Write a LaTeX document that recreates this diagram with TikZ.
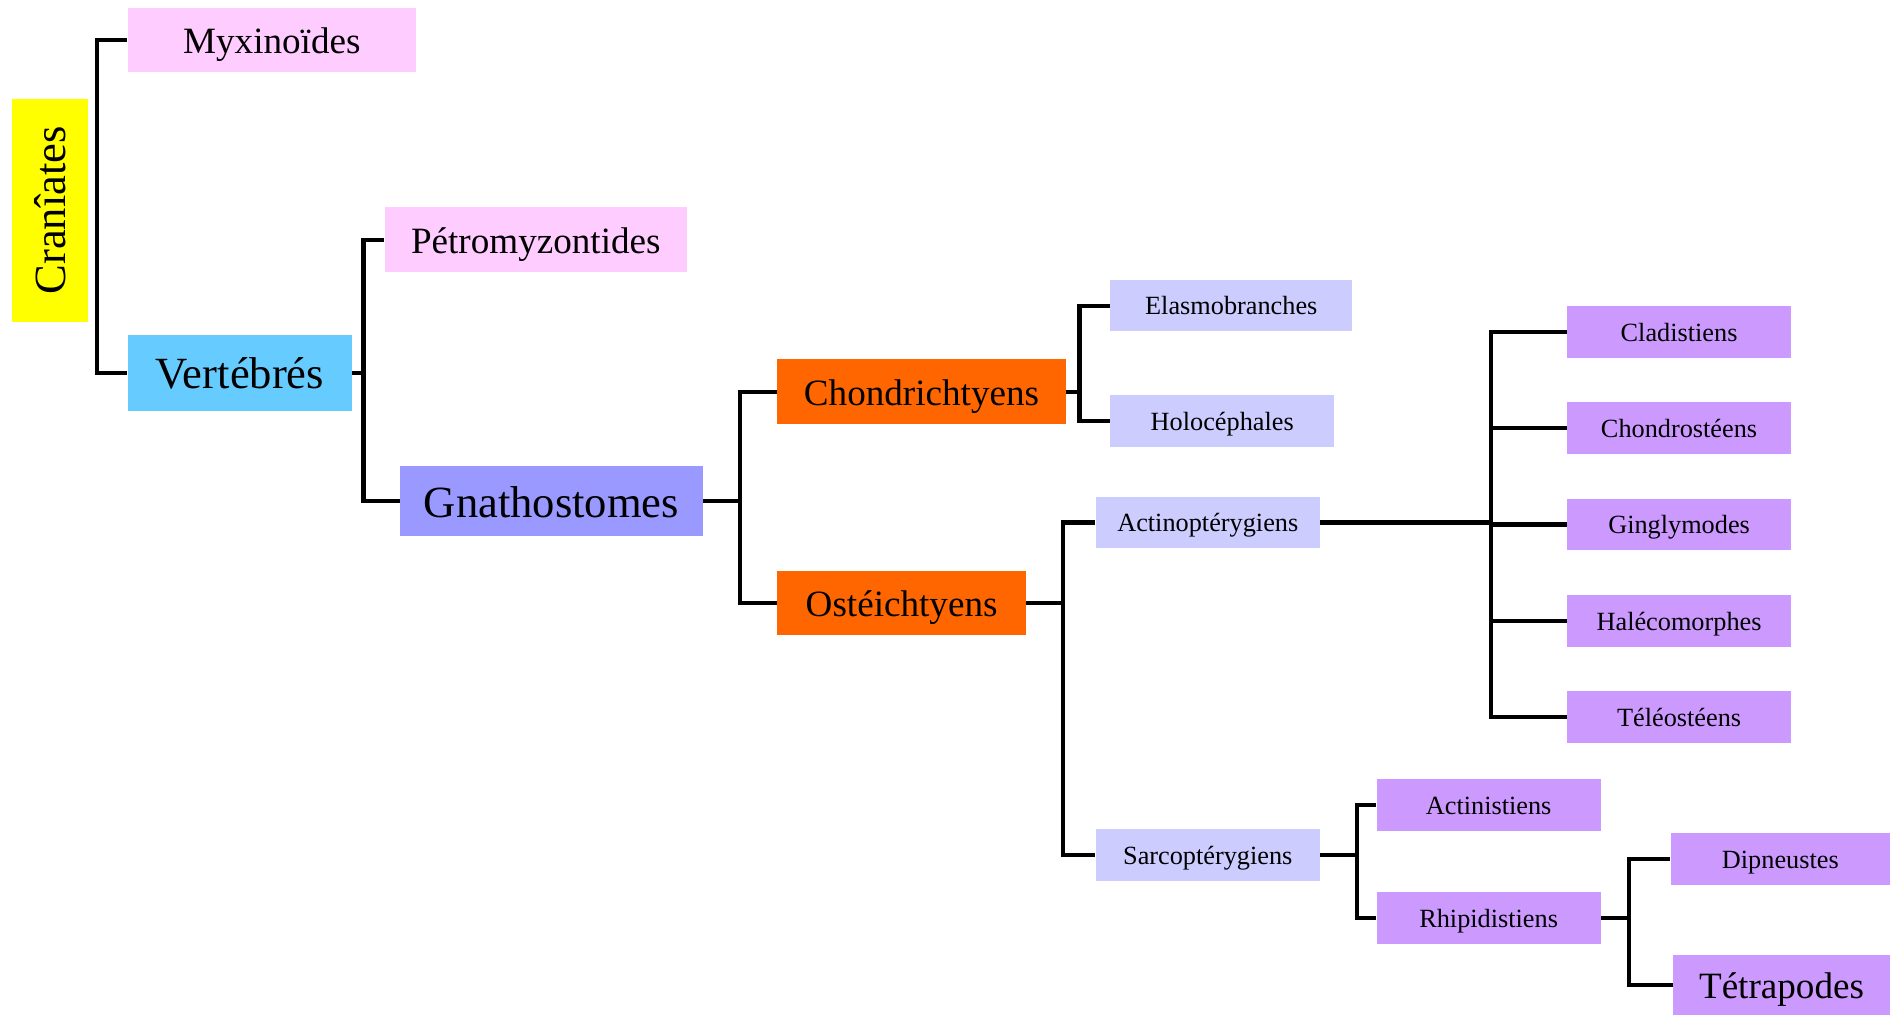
\documentclass[tikz,border=0pt]{standalone}
\usepackage{fontspec}
\setmainfont{Liberation Serif}
\usepackage{tikz}
\usetikzlibrary{shapes,positioning}
\definecolor{jaune}{RGB}{255, 255, 0}
\definecolor{rose}{RGB}{255, 204, 255}
\definecolor{ciel}{RGB}{102, 204, 255}
\definecolor{lavande}{RGB}{153, 153, 255}
\definecolor{orange}{RGB}{255, 102, 0}
\definecolor{bleupale}{RGB}{204, 204, 255}
\definecolor{mauve}{RGB}{204, 153, 255}
\tikzstyle{taxon} = [rectangle, inner sep=0pt, text=black, text centered, text depth=0pt]
\tikzstyle{big} = [taxon, font=\fontsize{18.5}{20}\selectfont, text height=13pt]
\tikzstyle{mid} = [taxon, font=\fontsize{15.4}{17}\selectfont, text height=11pt]
\tikzstyle{small} = [taxon, font=\fontsize{10.9}{12}\selectfont, text height=7.8pt, minimum width=93pt, minimum height=21.5pt]
\tikzstyle{link} = [draw, line width=1.7pt]

\begin{document}
\begin{tikzpicture}
\useasboundingbox (0,0) rectangle (784pt,-421.5pt);

% taxa =============================

% craniates
\node[big, fill=jaune, rotate=90, minimum width=92.5pt, minimum height=31.5pt] (cran) at (20.75pt,-87.25pt) {Cranîates};
\node[mid, fill=rose, minimum width=119.5pt, minimum height=26.5pt] (myx) at (112.75pt,-16.75pt) {Myxinoïdes};
\node[big, fill=ciel, minimum width=93pt, minimum height=31.5pt] (vert) at (99.5pt,-154.75pt) {Vertébrés};

% vertebres
\node[mid, fill=rose, minimum width=125.5pt, minimum height=27pt] (petro) at (222.25pt,-99.5pt) {Pétromyzontides};
\node[big, fill=lavande, minimum width=125.5pt, minimum height=29pt] (gnath) at (228.75pt,-208pt) {Gnathostomes};

% gnathostomes
\node[mid, fill=orange, minimum width=119.5pt, minimum height=27pt] (chond) at (382.25pt,-162.5pt) {Chondrichtyens};
\node[mid, fill=orange, minimum width=103pt, minimum height=26.5pt] (oste) at (374pt,-250.25pt) {Ostéichtyens};

% chondrichtyens
\node[small, fill=bleupale, minimum width=100.5pt] (elasmo) at (510.75pt,-126.75pt) {Elasmobranches};
\node[small, fill=bleupale] (holo) at (507pt,-174.75pt) {Holocéphales};

% osteichtyens
\node[small, fill=bleupale] (actino) at (501pt,-216.75pt) {Actinoptérygiens};
\node[small, fill=bleupale] (sarco) at (501pt,-354.75pt) {Sarcoptérygiens};

% actinopterygiens
\node[small, fill=mauve] (clad) at (696.5pt,-137.75pt) {Cladistiens};
\node[small, fill=mauve, below=18pt of clad] (chondro) {Chondrostéens};
\node[small, fill=mauve, below=18pt of chondro] (gingly) {Ginglymodes};
\node[small, fill=mauve, below=18pt of gingly] (hale) {Halécomorphes};
\node[small, fill=mauve, below=18pt of hale] (teleo) {Téléostéens};

% sarcopterygiens
\node[small, fill=mauve] (actini) at (617.5pt,-333.75pt) {Actinistiens};
\node[small, fill=mauve, below=25pt of actini] (rhipi) {Rhipidistiens};
\node[small, fill=mauve, minimum width=91pt] (dipn) at (738.5pt,-356.25pt) {Dipneustes};
\node[mid, fill=mauve, minimum width=90pt, minimum height=25pt] (tetra) at (739pt,-408.5pt) {Tétrapodes};

% branches =============================
\coordinate (b1) at ([xshift=-12.5pt]myx.west);
\coordinate (b2) at ([xshift=-8.5pt]petro.west);
\coordinate (b3) at ([xshift=-15.5pt]chond.west);
\coordinate (b4) at ([xshift=-12.5pt]elasmo.west);
\coordinate (b5) at ([xshift=-13.5pt]actino.west);
\coordinate (b6) at ([xshift=-31.5pt]clad.west);
\coordinate (b7) at ([xshift=-8pt]actini.west);
\coordinate (b8) at ([xshift=-17pt]dipn.west);

\path[link] (myx.west) -- (b1) |- (vert.west);
\path[link] (vert.east) -- (vert.east -| b2);
\path[link] (petro.west) -- (b2) |- (gnath.west);
\path[link] (gnath.east) -- (gnath.east -| b3);
\path[link] (chond.west) -- (b3) |- (oste.west);
\path[link] (chond.east) -- (chond.east -| b4);
\path[link] (elasmo.west) -- (b4) |- (holo.west);
\path[link] (oste.east) -- (oste.east -| b5);
\path[link] (actino.west) -- (b5) |- (sarco.west);

\path[link] (actino.east) -- (actino.east -| b6);
\path[link] (clad.west) -- (b6) |- (teleo.west);
\path[link] (b6 |- chondro.west) -- (chondro.west);
\path[link] (b6 |- gingly.west) -- (gingly.west);
\path[link] (b6 |- hale.west) -- (hale.west);

\path[link] (sarco.east) -- (sarco.east -| b7);
\path[link] (actini.west) -- (b7) |- (rhipi.west);
\path[link] (rhipi.east) -- (rhipi.east -| b8);
\path[link] (dipn.west) -- (b8) |- (tetra.west);

\end{tikzpicture}
\end{document}
